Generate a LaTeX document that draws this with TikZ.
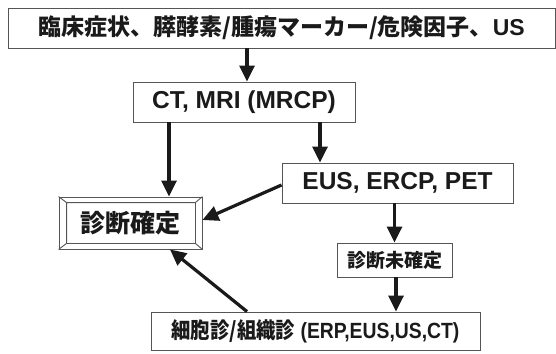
\documentclass[tikz,border=0pt]{standalone}
\usepackage{fontspec}
\setmainfont{Liberation Sans}
\newfontfamily\cjk{Noto Sans CJK JP}
\usetikzlibrary{arrows.meta,calc}
\definecolor{boxline}{HTML}{555555}
\definecolor{ink}{HTML}{1A1A1A}
\tikzset{
  box/.style={draw=boxline, line width=0.9pt, rectangle, inner sep=0pt, text=ink, font=\bfseries},
  arr/.style={draw=ink, line width=3.2pt, -{Triangle[width=15pt,length=16pt]}},
}
\begin{document}
\begin{tikzpicture}[x=1pt,y=-1pt]
\useasboundingbox (0,0) rectangle (556,353);
\node[box, minimum width=547pt, minimum height=40pt] (top) at (281.5,28)
  {\fontsize{23}{28}\selectfont{\cjk\bfseries 臨床症状、膵酵素/腫瘍マーカー/危険因子、}US};
\node[box, minimum width=222pt, minimum height=40pt] (ct) at (244,102)
  {\fontsize{24.5}{28}\selectfont CT, MRI (MRCP)};
\node[box, minimum width=231pt, minimum height=40pt] (eus) at (397.5,183)
  {\fontsize{24.5}{28}\selectfont EUS, ERCP, PET};
\node[box, minimum width=143pt, minimum height=52pt] (dx) at (130.5,223)
  {\fontsize{25}{30}\selectfont\cjk\bfseries 診断確定};
\draw[draw=boxline, line width=0.9pt]
  ($(dx.north west)+(8,6)$) rectangle ($(dx.south east)+(-7,-6)$)
  (dx.north west) -- ($(dx.north west)+(8,6)$)
  (dx.north east) -- ($(dx.north east)+(-7,6)$)
  (dx.south west) -- ($(dx.south west)+(8,-6)$)
  (dx.south east) -- ($(dx.south east)+(-7,-6)$);
\node[box, minimum width=115pt, minimum height=34pt] (und) at (394.5,260)
  {\fontsize{19}{23}\selectfont\cjk\bfseries 診断未確定};
\node[box, minimum width=329pt, minimum height=38pt] (bot) at (315.5,331)
  {\scalebox{0.88}[1]{\fontsize{22}{26}\selectfont{\cjk\bfseries 細胞診/組織診} (ERP,EUS,US,CT)}};
\draw[arr] ($(top.south)+(-34.5,0)$) -- ($(ct.north)+(3,0)$);
\draw[arr] ($(ct.south)+(-75,0)$) -- ($(dx.north)+(38.5,0)$);
\draw[arr] ($(ct.south)+(76,0)$) -- ($(eus.north)+(-77.5,0)$);
\draw[arr] ($(eus.west)+(0,2)$) -- ($(dx.east)+(0,-3)$);
\draw[arr] ($(eus.south)+(-3,0)$) -- (und.north);
\draw[arr] ($(und.south)+(1.5,0)$) -- ($(bot.north)+(80.5,0)$);
\draw[arr] ($(bot.north)+(-68.5,0)$) -- ($(dx.south)+(39.5,0)$);
\end{tikzpicture}
\end{document}
